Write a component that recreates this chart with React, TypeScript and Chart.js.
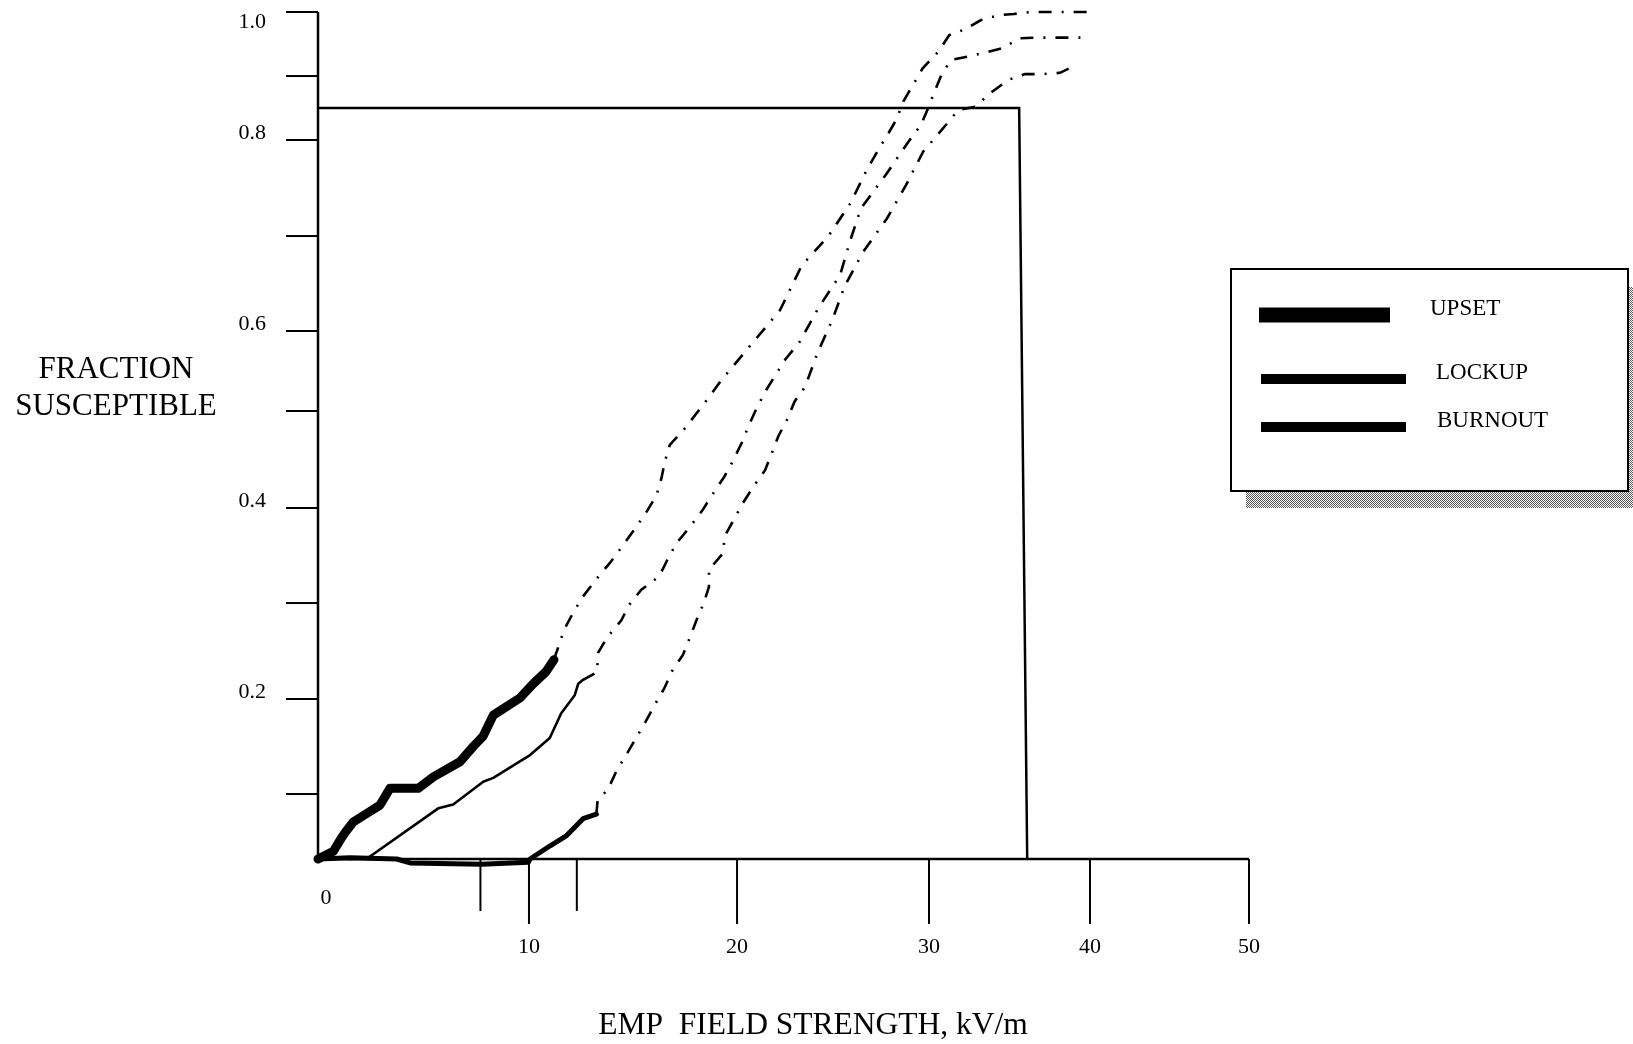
import React, { useEffect, useRef } from 'react';
import { Chart, registerables, LinearScale } from 'chart.js';

// ---------------- data ----------------
const seriesNames = ['UPSET', 'LOCKUP', 'BURNOUT'];

const xTickValues = [7.7, 10, 12.3, 20, 30, 40, 50];
const xTickLabels = ['', '10', '', '20', '30', '40', '50'];
const originLabel = '0';
const yTickValues = [0.1, 0.2, 0.3, 0.4, 0.5, 0.6, 0.7, 0.8, 0.9, 1.0];
const yTickLabels = ['', '0.2', '', '0.4', '', '0.6', '', '0.8', '', '1.0'];

const xTitle = 'EMP  FIELD STRENGTH, kV/m';
const yTitleLines = ['FRACTION', 'SUSCEPTIBLE'];

// UPSET – measured (solid) and extrapolated (dash-dot)
const upsetX = [0, 0.73, 1.12, 1.36, 1.67, 2.31, 2.94, 3.41, 4.75, 5.47, 6.73, 7.36, 7.83, 8.31, 9.57, 10.21, 10.8, 11.2];
const upsetY = [0, 0.012, 0.033, 0.044, 0.057, 0.07, 0.083, 0.106, 0.106, 0.118, 0.134, 0.15, 0.161, 0.183, 0.201, 0.216, 0.228, 0.241];
const upsetExtX = [11.2, 11.71, 12.1, 12.6, 13.27, 13.92, 14.56, 15.09, 15.65, 16.13, 16.37, 16.53, 16.77, 17.45, 18.14, 18.73, 19.26, 22.24, 23.37, 24.76, 25.9, 26.76, 27.45, 27.8, 28.32, 28.66, 29.22, 29.67, 30.58, 31.26, 32.24, 33.2, 34.3, 35.27, 36.37, 40.4];
const upsetExtY = [0.241, 0.273, 0.289, 0.307, 0.326, 0.343, 0.362, 0.378, 0.396, 0.413, 0.431, 0.448, 0.465, 0.481, 0.5, 0.52, 0.539, 0.622, 0.669, 0.7, 0.734, 0.769, 0.793, 0.806, 0.833, 0.86, 0.889, 0.912, 0.938, 0.964, 0.973, 0.987, 0.995, 0.997, 1.0, 1.0];

// LOCKUP
const lockupX = [1.5, 2.38, 5.7, 6.41, 7.83, 8.31, 10.05, 11.0, 11.55, 12.2, 12.37, 12.6];
const lockupY = [0, 0.002, 0.078, 0.084, 0.113, 0.117, 0.141, 0.159, 0.185, 0.204, 0.216, 0.22];
const lockupExtX = [12.6, 13.27, 13.32, 13.75, 14.44, 14.81, 15.4, 16.26, 16.64, 17.09, 17.73, 18.32, 18.85, 19.38, 19.81, 20.24, 20.59, 20.99, 21.46, 22.5, 23.28, 24.23, 25.37, 25.89, 26.46, 27.76, 28.92, 29.57, 29.97, 30.33, 30.79, 31.36, 32.5, 33.58, 34.6, 35.65, 36.7, 40.0];
const lockupExtY = [0.22, 0.228, 0.248, 0.264, 0.282, 0.298, 0.314, 0.328, 0.345, 0.363, 0.38, 0.397, 0.415, 0.432, 0.449, 0.467, 0.484, 0.502, 0.524, 0.564, 0.587, 0.624, 0.659, 0.695, 0.729, 0.764, 0.798, 0.823, 0.851, 0.875, 0.903, 0.925, 0.931, 0.937, 0.944, 0.959, 0.96, 0.96];

// BURNOUT
const burnoutX = [0, 1.52, 3.73, 4.36, 7.76, 9.97, 10.05, 11.0, 11.81, 12.6, 13.24];
const burnoutY = [0, 0.002, 0, -0.006, -0.008, -0.005, 0, 0.02, 0.036, 0.062, 0.069];
const burnoutExtX = [13.24, 13.3, 13.8, 14.2, 14.67, 15.15, 15.6, 16.1, 16.5, 16.9, 17.4, 17.75, 18.05, 18.4, 18.65, 18.65, 19.31, 19.42, 19.83, 20.3, 20.85, 21.46, 21.8, 22.15, 22.6, 23.0, 23.54, 24.18, 24.97, 25.6, 26.56, 27.8, 28.8, 29.7, 31.1, 31.82, 32.86, 33.9, 34.93, 35.96, 37.06, 38.14, 39.13];
const burnoutExtY = [0.069, 0.09, 0.105, 0.124, 0.141, 0.159, 0.176, 0.196, 0.211, 0.23, 0.246, 0.265, 0.282, 0.3, 0.317, 0.335, 0.352, 0.371, 0.387, 0.405, 0.422, 0.439, 0.456, 0.474, 0.491, 0.512, 0.53, 0.572, 0.612, 0.647, 0.683, 0.718, 0.753, 0.788, 0.825, 0.847, 0.852, 0.875, 0.894, 0.903, 0.903, 0.905, 0.917];

// Enclosing frame drawn in the plot
const frameX = [0, 35.6, 36.1];
const frameY = [0.85, 0.85, 0];

// ---------------- non-uniform axis definition (hand-drawn axes) ----------------
const AXIS_KNOTS: Record<string, { values: number[]; fractions: number[] }> = {
  x: { values: [0, 10, 20, 30, 40, 50], fractions: [0, 0.2266, 0.4501, 0.6563, 0.8292, 1] },
  y: {
    values: [0, 0.1, 0.2, 0.3, 0.4, 0.5, 0.6, 0.7, 0.8, 0.9, 1.0],
    fractions: [0, 0.0767, 0.1889, 0.3022, 0.4144, 0.5289, 0.6234, 0.7355, 0.8489, 0.9244, 1],
  },
};

function toDecimal(v: number, k: { values: number[]; fractions: number[] }) {
  const vs = k.values, fs = k.fractions;
  let i = 0;
  while (i < vs.length - 2 && v > vs[i + 1]) i++;
  return fs[i] + ((v - vs[i]) * (fs[i + 1] - fs[i])) / (vs[i + 1] - vs[i]);
}
function fromDecimal(d: number, k: { values: number[]; fractions: number[] }) {
  const vs = k.values, fs = k.fractions;
  let i = 0;
  while (i < fs.length - 2 && d > fs[i + 1]) i++;
  return vs[i] + ((d - fs[i]) * (vs[i + 1] - vs[i])) / (fs[i + 1] - fs[i]);
}

class PiecewiseScale extends LinearScale {
  static id = 'piecewise';
  getPixelForValue(value: any) {
    if (value === null || value === undefined || isNaN(value)) return NaN;
    const k = AXIS_KNOTS[(this as any).axis];
    return this.getPixelForDecimal(toDecimal(+value, k));
  }
  getValueForPixel(pixel: number) {
    const k = AXIS_KNOTS[(this as any).axis];
    return fromDecimal(this.getDecimalForPixel(pixel), k);
  }
}

Chart.register(...registerables);
Chart.register(PiecewiseScale as any);

const zip = (xs: number[], ys: number[]) => xs.map((x, i) => ({ x, y: ys[i] }));

const SERIF = '"Liberation Serif", "Times New Roman", serif';
const DASH_DOT = [13, 10, 2, 10];

// ---------------- plugin: axes, titles, legend ----------------
function makeHatch(ctx: CanvasRenderingContext2D) {
  const c = document.createElement('canvas');
  c.width = 2; c.height = 2;
  const g = c.getContext('2d')!;
  g.fillStyle = '#ffffff'; g.fillRect(0, 0, 2, 2);
  g.fillStyle = '#555555'; g.fillRect(0, 0, 1, 1); g.fillRect(1, 1, 1, 1);
  return ctx.createPattern(c, 'repeat')!;
}

const legendStyle = [
  { lineY: 315, thick: 15, x1: 1259, x2: 1390, textX: 1430, textY: 309 },
  { lineY: 379, thick: 10, x1: 1261, x2: 1406, textX: 1436, textY: 373 },
  { lineY: 427, thick: 10, x1: 1261, x2: 1406, textX: 1437, textY: 421 },
];

const schematicPlugin = {
  id: 'schematic',
  beforeDatasetsDraw(chart: any) {
    const { ctx } = chart;
    const xs = chart.scales.x, ys = chart.scales.y;
    const x0 = xs.getPixelForValue(0), y0 = ys.getPixelForValue(0);
    ctx.save();
    ctx.strokeStyle = '#000';
    ctx.lineCap = 'butt';
    ctx.lineWidth = 2.5;
    ctx.beginPath();
    ctx.moveTo(x0, y0 + 1);
    ctx.lineTo(x0, ys.getPixelForValue(1.0));
    ctx.stroke();
    ctx.beginPath();
    ctx.moveTo(x0, y0);
    ctx.lineTo(xs.getPixelForValue(50), y0);
    ctx.stroke();

    ctx.lineWidth = 2;
    yTickValues.forEach((v) => {
      const py = ys.getPixelForValue(v);
      ctx.beginPath(); ctx.moveTo(x0 - 32, py); ctx.lineTo(x0, py); ctx.stroke();
    });
    xTickValues.forEach((v, i) => {
      const px = xs.getPixelForValue(v);
      const len = xTickLabels[i] ? 65 : 52;
      ctx.beginPath(); ctx.moveTo(px, y0); ctx.lineTo(px, y0 + len); ctx.stroke();
    });

    ctx.fillStyle = '#000';
    ctx.font = `22px ${SERIF}`;
    ctx.textBaseline = 'middle';
    ctx.textAlign = 'right';
    yTickValues.forEach((v, i) => {
      if (!yTickLabels[i]) return;
      const py = ys.getPixelForValue(v);
      ctx.fillText(yTickLabels[i], x0 - 52, Math.max(py - 7, 22));
    });
    ctx.textAlign = 'center';
    xTickValues.forEach((v, i) => {
      if (!xTickLabels[i]) return;
      ctx.fillText(xTickLabels[i], xs.getPixelForValue(v), y0 + 88);
    });
    ctx.fillText(originLabel, x0 + 8, y0 + 39);
    ctx.restore();
  },
  afterDraw(chart: any) {
    const { ctx } = chart;
    ctx.save();
    ctx.fillStyle = '#000';
    ctx.textBaseline = 'middle';
    ctx.textAlign = 'center';
    ctx.font = `31px ${SERIF}`;
    ctx.fillText(yTitleLines[0], 116, 370);
    ctx.fillText(yTitleLines[1], 116, 407);
    ctx.font = `31.5px ${SERIF}`;
    ctx.fillText(xTitle, 813, 1026);

    // legend with hatched drop shadow
    ctx.fillStyle = makeHatch(ctx);
    ctx.fillRect(1246, 287, 400, 221);
    ctx.fillStyle = '#fff';
    ctx.fillRect(1231, 269, 397, 222);
    ctx.strokeStyle = '#000';
    ctx.lineWidth = 2;
    ctx.strokeRect(1231, 269, 397, 222);

    ctx.fillStyle = '#000';
    ctx.font = `23px ${SERIF}`;
    ctx.textAlign = 'left';
    seriesNames.forEach((name, i) => {
      const s = legendStyle[i];
      ctx.fillRect(s.x1, s.lineY - s.thick / 2, s.x2 - s.x1, s.thick);
      ctx.fillText(name, s.textX, s.textY);
    });
    ctx.restore();
  },
};

export default function App() {
  const ref = useRef<HTMLCanvasElement>(null);
  useEffect(() => {
    const solid = (label: string, xs: number[], ys: number[], w: number) => ({
      label,
      data: zip(xs, ys),
      borderColor: '#000',
      backgroundColor: '#000',
      borderWidth: w,
      borderCapStyle: 'round',
      borderJoinStyle: 'round',
      pointRadius: 0,
      tension: 0,
      fill: false,
      clip: false,
    });
    const dashed = (label: string, xs: number[], ys: number[]) => ({
      label,
      data: zip(xs, ys),
      borderColor: '#000',
      borderWidth: 2.6,
      borderDash: DASH_DOT,
      borderCapStyle: 'butt',
      pointRadius: 0,
      tension: 0,
      fill: false,
      clip: false,
    });
    const chart = new Chart(ref.current!, {
      type: 'line',
      data: {
        datasets: [
          solid(seriesNames[0], upsetX, upsetY, 9),
          dashed(seriesNames[0] + ' (extrapolated)', upsetExtX, upsetExtY),
          solid(seriesNames[1], lockupX, lockupY, 2.6),
          dashed(seriesNames[1] + ' (extrapolated)', lockupExtX, lockupExtY),
          solid(seriesNames[2], burnoutX, burnoutY, 5),
          dashed(seriesNames[2] + ' (extrapolated)', burnoutExtX, burnoutExtY),
          { ...solid('frame', frameX, frameY, 2.5), borderCapStyle: 'butt', borderJoinStyle: 'miter' },
        ] as any,
      },
      options: {
        responsive: false,
        animation: false,
        events: [],
        layout: { padding: { left: 318, right: 384, top: 12, bottom: 185 } },
        scales: {
          x: { type: 'piecewise' as any, min: 0, max: 50, display: false },
          y: { type: 'piecewise' as any, min: 0, max: 1, display: false },
        },
        plugins: { legend: { display: false }, tooltip: { enabled: false }, title: { display: false } },
      } as any,
      plugins: [schematicPlugin],
    });
    return () => chart.destroy();
  }, []);
  return (
    <div style={{ position: 'absolute', left: 0, top: 0, width: 1633, height: 1044, background: '#fff' }}>
      <canvas ref={ref} width={1633} height={1044} style={{ display: 'block', width: 1633, height: 1044 }} />
    </div>
  );
}
